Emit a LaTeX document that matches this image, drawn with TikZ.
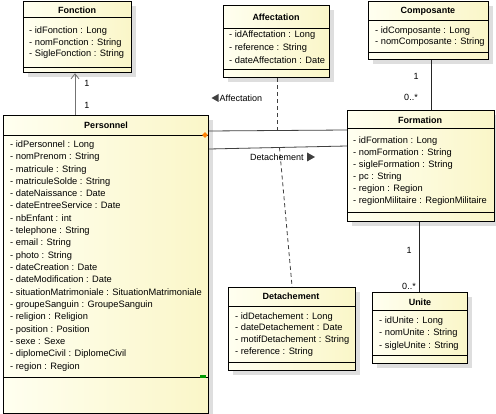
\documentclass[tikz,border=0pt]{standalone}
\usepackage{fontspec}
\setmainfont{Liberation Sans}
\usetikzlibrary{shadows,arrows.meta,calc,shapes.geometric}
\definecolor{fillA}{HTML}{FFFFF0}
\definecolor{fillB}{HTML}{FAF6C8}
\definecolor{edgeC}{HTML}{404040}
\tikzset{
 box/.style={draw=black, line width=1.2pt, left color=fillA, right color=fillB, inner sep=0, anchor=north west,
   drop shadow={shadow xshift=4pt, shadow yshift=-4pt, fill=black!13, opacity=1}},
 ttl/.style={font=\fontsize{9}{11}\selectfont\bfseries, inner sep=0},
 attr/.style={font=\fontsize{9.3}{11}\selectfont, anchor=west, inner sep=0, text height=6.5pt, text depth=1.8pt},
 mult/.style={font=\fontsize{9}{11}\selectfont, inner sep=0},
 assoc/.style={draw=edgeC, line width=0.8pt},
 dep/.style={draw=edgeC, line width=0.8pt, dash pattern=on 4pt off 3pt},
 sepline/.style={draw=black, line width=0.8pt},
}
\newcommand{\umlclass}[7]{%
 \node[box, minimum width=#4pt, minimum height=#5pt] (#1) at (#2,#3) {};
 \draw[sepline] (#1.west |- 0,#6) -- (#1.east |- 0,#6);
 \draw[sepline] (#1.west |- 0,#7) -- (#1.east |- 0,#7);
}
\begin{document}
\begin{tikzpicture}[x=1pt,y=-1pt]
\fill[white] (0,0) rectangle (496,414);
\useasboundingbox (0,0) rectangle (496,414);

% Fonction
\umlclass{fon}{23}{1}{108}{71}{17}{67}
\node[ttl] (fonT) at (77,10) {Fonction};
\node[attr] (fon1) at (29,31) {- idFonction : Long};
\node[attr] (fon2) at (29,43) {- nomFonction : String};
\node[attr] (fon3) at (29,54) {- SigleFonction : String};

% Affectation
\umlclass{aff}{223}{5}{106}{72}{28}{69}
\node[ttl] (affT) at (276,17) {Affectation};
\node[attr] (aff1) at (229,35) {- idAffectation : Long};
\node[attr] (aff2) at (229,48) {- reference : String};
\node[attr] (aff3) at (229,61) {- dateAffectation : Date};

% Composante
\umlclass{com}{368}{1}{120}{58}{20}{52}
\node[ttl] (comT) at (428,11) {Composante};
\node[attr] (com1) at (375,31) {- idComposante : Long};
\node[attr] (com2) at (375,42) {- nomComposante : String};

% Formation
\umlclass{frm}{347}{110}{147}{111}{128}{212}
\node[ttl] (frmT) at (420,120) {Formation};
\foreach [count=\i from 0] \t in {idFormation : Long, nomFormation : String, sigleFormation : String, pc : String, region : Region, regionMilitaire : RegionMilitaire}
  \node[attr] (frm\i) at (353,{141+12*\i}) {- \t};

% Personnel
\umlclass{pers}{3}{115}{205}{298}{135}{377}
\node[ttl] (persT) at (106,125) {Personnel};
\foreach [count=\i from 0] \t in {idPersonnel : Long, nomPrenom : String, matricule : String, matriculeSolde : String, dateNaissance : Date, dateEntreeService : Date, nbEnfant : int, telephone : String, email : String, photo : String, dateCreation : Date, dateModification : Date, situationMatrimoniale : SituationMatrimoniale, groupeSanguin : GroupeSanguin, religion : Religion, position : Position, sexe : Sexe, diplomeCivil : DiplomeCivil, region : Region}
  \node[attr] (pa\i) at (10,{145+12.33*\i}) {- \t};

% Detachement
\umlclass{det}{228}{287}{127}{83}{306}{362}
\node[ttl] (detT) at (291,296) {Detachement};
\node[attr] (det1) at (235,317) {- idDetachement : Long};
\node[attr] (det2) at (235,328) {- dateDetachement : Date};
\node[attr] (det3) at (235,340) {- motifDetachement : String};
\node[attr] (det4) at (235,352) {- reference : String};

% Unite
\umlclass{uni}{372}{292}{95}{71}{310}{355}
\node[ttl] (uniT) at (420,302) {Unite};
\node[attr] (uni1) at (379,321) {- idUnite : Long};
\node[attr] (uni2) at (379,333) {- nomUnite : String};
\node[attr] (uni3) at (379,346) {- sigleUnite : String};

% connectors
\draw[draw=black!55, line width=0.8pt, -{Straight Barb[length=5pt,width=8pt]}] (75,0 |- pers.north) -- (75,0 |- fon.south);
\node[mult] (m1) at (87,83) {1};
\node[mult] (m2) at (87,105) {1};

\coordinate (pA) at (pers.east |- 0,131);
\coordinate (fA) at (frm.west |- 0,130);
\coordinate (pB) at (pers.east |- 0,149);
\coordinate (fB) at (frm.west |- 0,146);
\draw[assoc] (pA) -- (fA);
\draw[assoc] (pB) -- (fB);
\coordinate (onA) at ($(pA)!0.497!(fA)$);
\coordinate (onB) at ($(pB)!0.51!(fB)$);
\draw[dep] (aff.south -| onA) -- (onA);
\draw[dep] (onB) -- (det.north);

\fill[edgeC] (218.5,94) -- (211.5,98) -- (218.5,102) -- cycle;
\node[mult, anchor=west] (lblA) at (219.5,98) {Affectation};
\node[mult, anchor=west] (lblB) at (250,157) {Detachement};
\fill[edgeC] (307,152.5) -- (315,157) -- (307,161.5) -- cycle;

\draw[assoc, draw=black!85] (431,0 |- com.south) -- (431,0 |- frm.north);
\node[mult] (m3) at (416,76) {1};
\node[mult] (m4) at (411,97) {0..*};
\draw[assoc, draw=black!85] (419,0 |- frm.south) -- (419,0 |- uni.north);
\node[mult] (m5) at (409,250) {1};
\node[mult] (m6) at (409,286) {0..*};

\node[diamond, fill=orange, minimum size=6pt, inner sep=0] (dia) at (205,135) {};
\node[rectangle, fill=green!60!black, minimum width=6pt, minimum height=3pt, inner sep=0] (grn) at (203,377) {};
\end{tikzpicture}
\end{document}
